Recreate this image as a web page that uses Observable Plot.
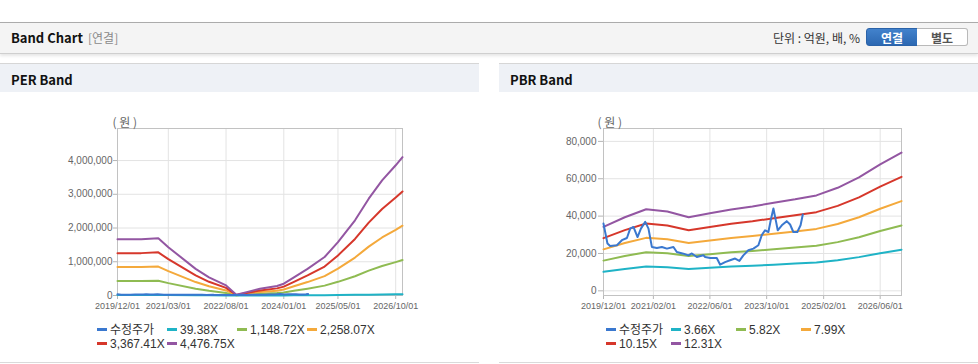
<!DOCTYPE html>
<html>
<head>
<meta charset="utf-8">
<script src="https://cdn.jsdelivr.net/npm/d3@7"></script>
<script src="https://cdn.jsdelivr.net/npm/@observablehq/plot@0.6"></script>
<style>
  html, body { margin: 0; padding: 0; }
  body { width: 978px; height: 364px; overflow: hidden; background: #fff; position: relative;
         font-family: "Noto Sans CJK KR", "Noto Sans", sans-serif; }
  .abs { position: absolute; }
  #topbar { left: 0; top: 22px; width: 978px; height: 30px; background: #f4f4f4;
            border-top: 1px solid #ababab; border-bottom: 1px solid #cfcfcf;
            box-shadow: 0 2px 3px rgba(0,0,0,0.10); }
  .title { font-weight: bold; font-size: 13px; color: #111; line-height: 16px; }
  .sub { font-size: 12px; color: #8a8a8a; line-height: 16px; }
  .unit { font-size: 12px; color: #333; line-height: 16px; text-align: right; }
  .btn { height: 18px; line-height: 18px; font-size: 12px; font-weight: bold; text-align: center; box-sizing: border-box; }
  .panelhdr { top: 63px; height: 29px; background: #eef1f6; border-top: 1px solid #d6d6d6; box-sizing: border-box; }
  .panelbottom { top: 362px; height: 1px; background: #dadada; }
  .leg { font-family: "Liberation Sans", "Noto Sans CJK KR", sans-serif; font-size: 12px; color: #333;
         line-height: 14px; white-space: nowrap; }
  .leg span.sw { display: inline-block; width: 10px; height: 3px; vertical-align: middle; margin-right: 3px; position: relative; top: -1px; }
  svg [aria-label$="axis tick"] path, svg [aria-label$="axis"] .tick line { stroke: #b5b5b5; }
  svg [aria-label="x-axis tick label"], svg [aria-label="x-axis"] text { font-size: 9px; }
</style>
</head>
<body>
<div id="topbar" class="abs"></div>
<div class="abs title" style="left:11px;top:30px;">Band Chart</div>
<div class="abs sub" style="left:88px;top:30px;">[연결]</div>
<div class="abs unit" style="left:700px;width:160px;top:30px;">단위 : 억원, 배, %</div>
<div class="abs btn" style="left:866px;top:28px;width:52px;background:linear-gradient(#4282cc,#2c68b2);color:#fff;border:1px solid #2a62a8;border-radius:3px 0 0 3px;">연결</div>
<div class="abs btn" style="left:917px;top:28px;width:51px;background:#fff;color:#555;border:1px solid #b9b9b9;border-left:none;border-radius:0 3px 3px 0;">별도</div>

<div class="abs panelhdr" style="left:0;width:479px;"></div>
<div class="abs title" style="left:11px;top:72px;">PER Band</div>
<div class="abs panelhdr" style="left:499px;width:479px;"></div>
<div class="abs title" style="left:510px;top:72px;">PBR Band</div>

<div id="per" class="abs" style="left:0;top:93px;"></div>
<div id="pbr" class="abs" style="left:499px;top:93px;"></div>
<div id="perLegend"></div>
<div id="pbrLegend"></div>

<div class="abs panelbottom" style="left:0;width:479px;"></div>
<div class="abs panelbottom" style="left:499px;width:479px;"></div>

<script>
// ---------- data ----------
// adjusted share price (수정주가)
const priceDates = ["2019-12-01","2020-01-04","2020-01-27","2020-03-25","2020-05-07","2020-06-19","2020-07-17","2020-08-14","2020-09-18","2020-10-17","2020-11-23","2020-12-21","2021-01-19","2021-03-03","2021-04-15","2021-05-28","2021-07-23","2021-08-21","2021-10-17","2021-11-29","2021-12-28","2022-02-09","2022-04-06","2022-04-21","2022-06-03","2022-07-30","2022-08-28","2022-10-09","2022-11-21","2023-01-03","2023-02-09","2023-03-15","2023-04-27","2023-06-09","2023-07-22","2023-08-20","2023-09-17","2023-10-16","2023-11-05","2023-11-28","2023-12-21","2024-01-04","2024-02-08","2024-03-21","2024-04-19","2024-05-17","2024-06-20","2024-07-18","2024-08-06"];
const priceValues = [36000,25300,24000,24400,27100,28300,33300,34200,28800,33300,36900,33300,23500,22900,23500,22600,23500,20800,19900,19000,20000,18100,19000,18100,17600,17600,14000,15400,16400,17300,16000,19000,21700,22600,24400,29800,32400,31500,37800,44100,36900,32400,35100,37300,35500,31500,31500,35100,40900];

// PER band
const perNames = ["수정주가","39.38X","1,148.72X","2,258.07X","3,367.41X","4,476.75X"];
const perDates = ["2019-12-01","2020-07-01","2020-12-01","2021-03-01","2021-11-01","2022-03-01","2022-08-01","2022-11-01","2023-02-01","2023-06-01","2023-11-01","2024-01-01","2024-04-01","2024-08-01","2025-01-01","2025-05-01","2025-10-01","2026-02-01","2026-06-01","2026-10-01","2026-12-01"];
const per39 = [14700,14700,15000,12600,7000,4800,2600,200,900,1800,2500,3100,4800,7000,10000,13900,19600,25300,30000,34000,36100];
const per1148 = [429000,429000,436000,367000,203000,139000,77000,5000,26000,51000,72000,90000,139000,203000,293000,405000,572000,736000,875000,990000,1052000];
const per2258 = [842000,842000,857000,721000,398000,272000,151000,10000,50000,101000,141000,177000,272000,398000,575000,797000,1125000,1448000,1720000,1947000,2068000];
const per3367 = [1256000,1256000,1279000,1076000,594000,406000,226000,15000,75000,150000,211000,263000,406000,594000,858000,1188000,1677000,2159000,2565000,2904000,3084000];
const per4476 = [1670000,1670000,1700000,1430000,790000,540000,300000,20000,100000,200000,280000,350000,540000,790000,1140000,1580000,2230000,2870000,3410000,3860000,4100000];
const perXTicks = ["2019-12-01","2021-03-01","2022-08-01","2024-01-01","2025-05-01","2026-10-01"];
const perYTicks = [0,1000000,2000000,3000000,4000000];

// PBR band
const pbrNames = ["수정주가","3.66X","5.82X","7.99X","10.15X","12.31X"];
const pbrDates = ["2019-12-01","2020-06-01","2020-12-01","2021-06-01","2021-12-01","2022-06-01","2022-12-01","2023-06-01","2023-12-01","2024-06-01","2024-12-01","2025-06-01","2025-12-01","2026-06-01","2026-12-01"];
const pbr366 = [10170,11710,12990,12630,11710,12330,12960,13430,14020,14570,15190,16400,18040,20130,22000];
const pbr582 = [16180,18620,20660,20080,18620,19610,20600,21360,22290,23160,24150,26070,28690,32010,34980];
const pbr799 = [22210,25570,28360,27570,25570,26930,28280,29320,30600,31800,33160,35800,39390,43950,48020];
const pbr1015 = [28220,32480,36030,35020,32480,34210,35930,37250,38870,40400,42120,45470,50040,55830,61000];
const pbr1231 = [34220,39390,43700,42470,39390,41480,43580,45180,47150,48990,51090,55150,60690,67710,73980];
const pbrXTicks = ["2019-12-01","2021-02-01","2022-06-01","2023-10-01","2025-02-01","2026-06-01"];
const pbrYTicks = [0,20000,40000,60000,80000];

const seriesColors = ["#3a78cf","#1fb3c6","#8fbb52","#f4a93b","#d6372b","#9356a2"];

// ---------- drawing ----------
const toRows = (ds, vs) => ds.map((d, i) => ({date: new Date(d), v: vs[i]}));
const fmtDate = d3.utcFormat("%Y/%m/%d");

function bandPlot(o) {
  const xT = o.xTicks.map(d => new Date(d));
  const marks = [
    Plot.ruleY(o.yTicks, {stroke: "#e3e3e3"}),
    Plot.ruleX(xT, {stroke: "#e3e3e3"}),
    Plot.frame({stroke: "#c2c2c2"}),
    ...o.bands.map((b, i) => Plot.line(toRows(o.dates, b), {x: "date", y: "v", stroke: seriesColors[i + 1], strokeWidth: 2})),
    Plot.line(toRows(priceDates, priceValues), {x: "date", y: "v", stroke: seriesColors[0], strokeWidth: 2}),
    Plot.text(["( 원 )"], {text: d => d, frameAnchor: "top-left", dx: o.labelDx, dy: -10, fill: "#666", fontSize: 12,
      fontFamily: "Noto Sans CJK KR, sans-serif"})
  ];
  return Plot.plot({
    width: 479, height: 225,
    marginLeft: o.marginLeft, marginRight: 77, marginTop: 35, marginBottom: 23,
    style: {fontFamily: "Liberation Sans, Arial, sans-serif", fontSize: "10px", color: "#666", background: "transparent", overflow: "visible"},
    x: {type: "utc", domain: [new Date(o.dates[0]), new Date(o.dates[o.dates.length - 1])], ticks: xT,
        tickFormat: fmtDate, label: null, tickSize: 4, tickPadding: 3},
    y: {domain: o.yDomain, ticks: o.yTicks, tickFormat: d3.format(","), label: null, tickSize: o.tickSize, tickPadding: o.tickPadding},
    marks
  });
}

document.getElementById("per").appendChild(bandPlot({
  dates: perDates, bands: [per39, per1148, per2258, per3367, per4476],
  yDomain: [0, 4950000], yTicks: perYTicks, xTicks: perXTicks,
  marginLeft: 117, tickSize: 4, tickPadding: 1, labelDx: -5
}));
document.getElementById("pbr").appendChild(bandPlot({
  dates: pbrDates, bands: [pbr366, pbr582, pbr799, pbr1015, pbr1231],
  yDomain: [-2500, 86900], yTicks: pbrYTicks, xTicks: pbrXTicks,
  marginLeft: 104, tickSize: 5, tickPadding: 2, labelDx: -6
}));

function legend(id, names, left, cols) {
  const host = document.getElementById(id);
  names.forEach((n, i) => {
    const r = Math.floor(i / 4), c = i % 4;
    const el = document.createElement("div");
    el.className = "abs leg";
    el.style.left = (left + cols[c]) + "px";
    el.style.top = (323 + r * 13.5) + "px";
    el.innerHTML = `<span class="sw" style="background:${seriesColors[i]}"></span>${n}`;
    host.appendChild(el);
  });
}
legend("perLegend", perNames, 97, [0, 70, 140, 210]);
legend("pbrLegend", pbrNames, 606, [0, 65, 130, 195]);
</script>
</body>
</html>
